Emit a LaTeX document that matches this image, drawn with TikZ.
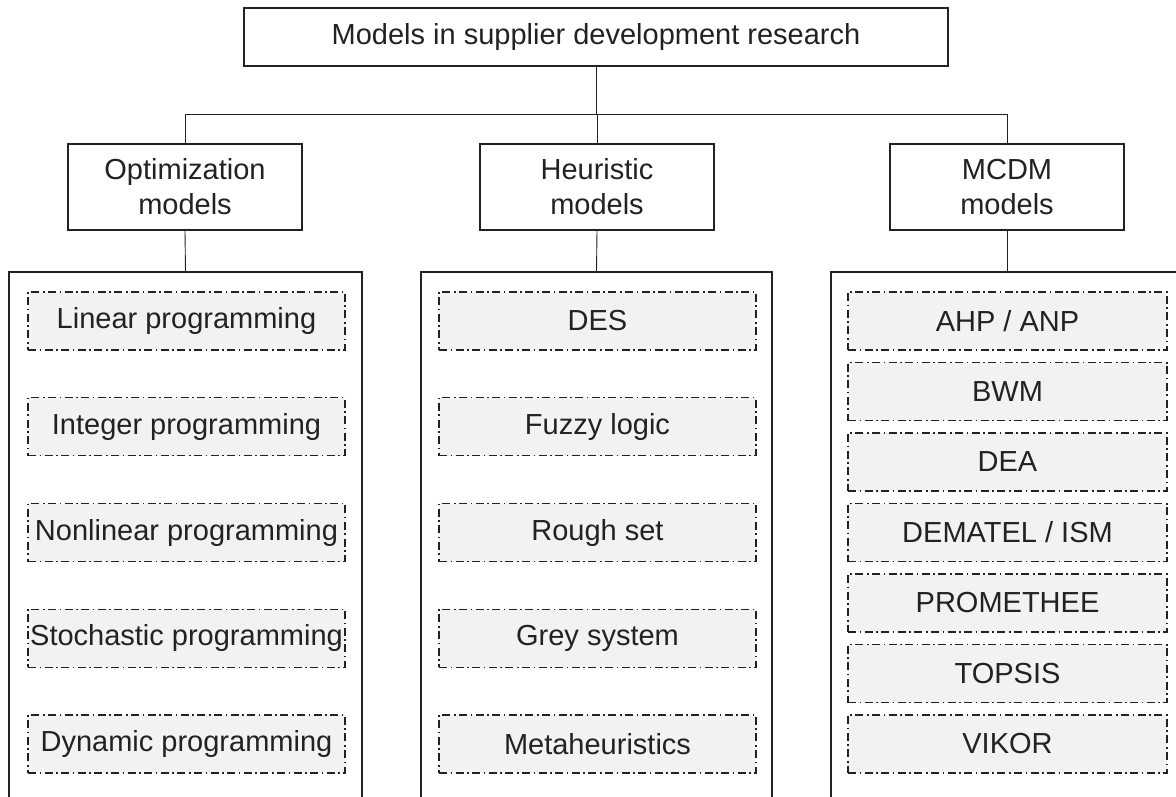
\documentclass[tikz,border=0pt]{standalone}
\usepackage{fontspec}
\setmainfont{Liberation Sans}
\definecolor{ink}{HTML}{222222}
\definecolor{cellfill}{HTML}{F2F2F2}
\begin{document}
\begin{tikzpicture}[x=1pt,y=-1pt,
  every node/.style={font=\fontsize{29}{35}\selectfont, text=ink, inner sep=2pt, align=center},
  headbox/.style={draw=ink, line width=1.5pt, minimum width=704, minimum height=58},
  groupbox/.style={draw=ink, line width=1.5pt, minimum width=234, minimum height=86},
  colframe/.style={draw=ink, line width=1.5pt},
  link/.style={draw=ink, line width=0.9pt},
  cell/.style={draw=ink, line width=1.2pt, fill=cellfill,
    dash pattern=on 8pt off 3.5pt on 1.6pt off 3.5pt,
    minimum width=317, minimum height=58},
  cellwide/.style={cell, minimum width=319}]
\useasboundingbox (0,0) rectangle (1176,796);

% title and the three model families
\node[headbox] (top) at (596,37) {Models in supplier development research};
\node[groupbox] (opt) at (185,187) {Optimization\\models};
\node[groupbox] (heur) at (597,187) {Heuristic\\models};
\node[groupbox] (mcdm) at (1007,187) {MCDM\\models};

% tree connectors
\coordinate (bus) at (185,114);
\draw[link] (opt.north) -- (bus) -| (mcdm.north);
\draw[link] (top.south) -- (top.south |- bus);
\draw[link] (heur.north) -- (heur.north |- bus);

% column frames (open at the bottom)
\coordinate (colL) at (185.5,272);
\coordinate (colM) at (596.5,272);
\coordinate (colR) at (1007,272);
\draw[colframe] ([xshift=-176.5]colL) ++(0,540) -- ++(0,-540) -- ++(353,0) -- ++(0,540);
\draw[colframe] ([xshift=-175.5]colM) ++(0,540) -- ++(0,-540) -- ++(351,0) -- ++(0,540);
\draw[colframe] ([xshift=-176]colR) ++(0,540) -- ++(0,-540) -- ++(352,0) -- ++(0,540);
\draw[link] (opt.south) -- (colL);
\draw[link] (heur.south) -- (colM);
\draw[link] (mcdm.south) -- (colR);

% optimization models
\node[cell] (lp) at (186.5,321) {Linear programming};
\node[cell] (ip) at (186.5,426.75) {Integer programming};
\node[cell] (nlp) at (186.5,532.5) {Nonlinear programming};
\node[cell] (sp) at (186.5,638.25) {Stochastic programming};
\node[cell] (dp) at (186.5,744) {Dynamic programming};

% heuristic models
\node[cell] (des) at (597.5,321) {DES};
\node[cell] (fuzzy) at (597.5,426.75) {Fuzzy logic};
\node[cell] (rough) at (597.5,532.5) {Rough set};
\node[cell] (grey) at (597.5,638.25) {Grey system};
\node[cell] (meta) at (597.5,744) {Metaheuristics};

% MCDM models
\node[cellwide] (ahp) at (1007.5,321) {AHP / ANP};
\node[cellwide] (bwm) at (1007.5,391.5) {BWM};
\node[cellwide] (dea) at (1007.5,462) {DEA};
\node[cellwide] (dem) at (1007.5,532.5) {DEMATEL / ISM};
\node[cellwide] (prom) at (1007.5,603) {PROMETHEE};
\node[cellwide] (tops) at (1007.5,673.5) {TOPSIS};
\node[cellwide] (vik) at (1007.5,744) {VIKOR};
\end{tikzpicture}
\end{document}
